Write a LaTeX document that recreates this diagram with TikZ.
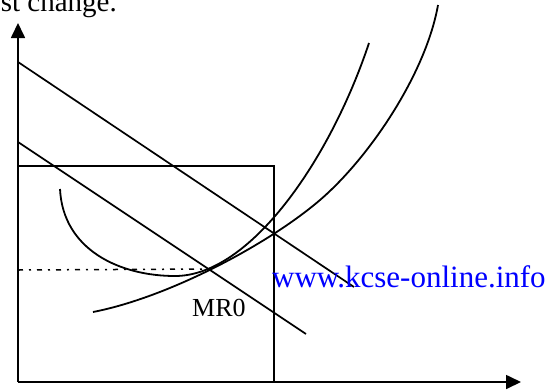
\documentclass[tikz,border=0pt]{standalone}
\usepackage{fontspec}
\setmainfont{Liberation Serif}
\usetikzlibrary{arrows.meta}
\definecolor{urlblue}{RGB}{0,0,255}
\tikzset{
  axisline/.style={line width=1.7pt, -{Triangle[length=15pt,width=14pt]}},
  ecoline/.style={line width=1.7pt},
  curveline/.style={line width=1.8pt},
  guideline/.style={line width=1.5pt, dash pattern=on 5pt off 6pt on 2pt off 6pt},
  lbl/.style={inner sep=0pt, font=\fontsize{26}{26}\selectfont},
}
\begin{document}
\begin{tikzpicture}[x=1pt,y=-1pt]
\useasboundingbox (0,0) rectangle (548,389);
% axes
\coordinate (O) at (18,382);
\coordinate (Ytop) at (18,23);
\coordinate (Xend) at (521,382);
\draw[axisline] (O) -- (Ytop);
\draw[axisline] (O) -- (Xend);
% box
\coordinate (B1) at (18,166);
\coordinate (B2) at (274,166);
\coordinate (B3) at (274,382);
\draw[ecoline] (B1) -- (B2) -- (B3);
% demand lines
\coordinate (D1a) at (18,62);
\coordinate (D1b) at (354,287);
\draw[ecoline] (D1a) -- (D1b);
\coordinate (D2a) at (18,142);
\coordinate (D2b) at (306,334);
\draw[ecoline] (D2a) -- (D2b);
% equilibrium
\coordinate (E) at (210,269);
\coordinate (G) at (18,270);
\draw[guideline] (G) -- (E);
% U-shaped curve
\coordinate (U0) at (60,189);
\coordinate (Umin) at (175,276);
\coordinate (U1) at (369,43);
\draw[curveline] (U0) .. controls (63,250) and (120,276) .. (Umin)
  .. controls (250,276) and (330,160) .. (U1);
% MC curve
\coordinate (M0) at (93,312);
\coordinate (Mmid) at (320,200);
\coordinate (M1) at (438,5);
\draw[curveline] (M0) .. controls (170,297) and (270,243) .. (Mmid)
  .. controls (370,157) and (426,73) .. (M1);
% labels
\node[lbl, anchor=base west] (mr) at (192,316) {MR0};
\node[inner sep=0pt, anchor=base west, text=urlblue, font=\fontsize{31}{31}\selectfont] (url) at (272,287) {www.kcse-online.info};
\node[inner sep=0pt, anchor=base east, font=\fontsize{29}{29}\selectfont] (top) at (117,11) {st change.};
\end{tikzpicture}
\end{document}
